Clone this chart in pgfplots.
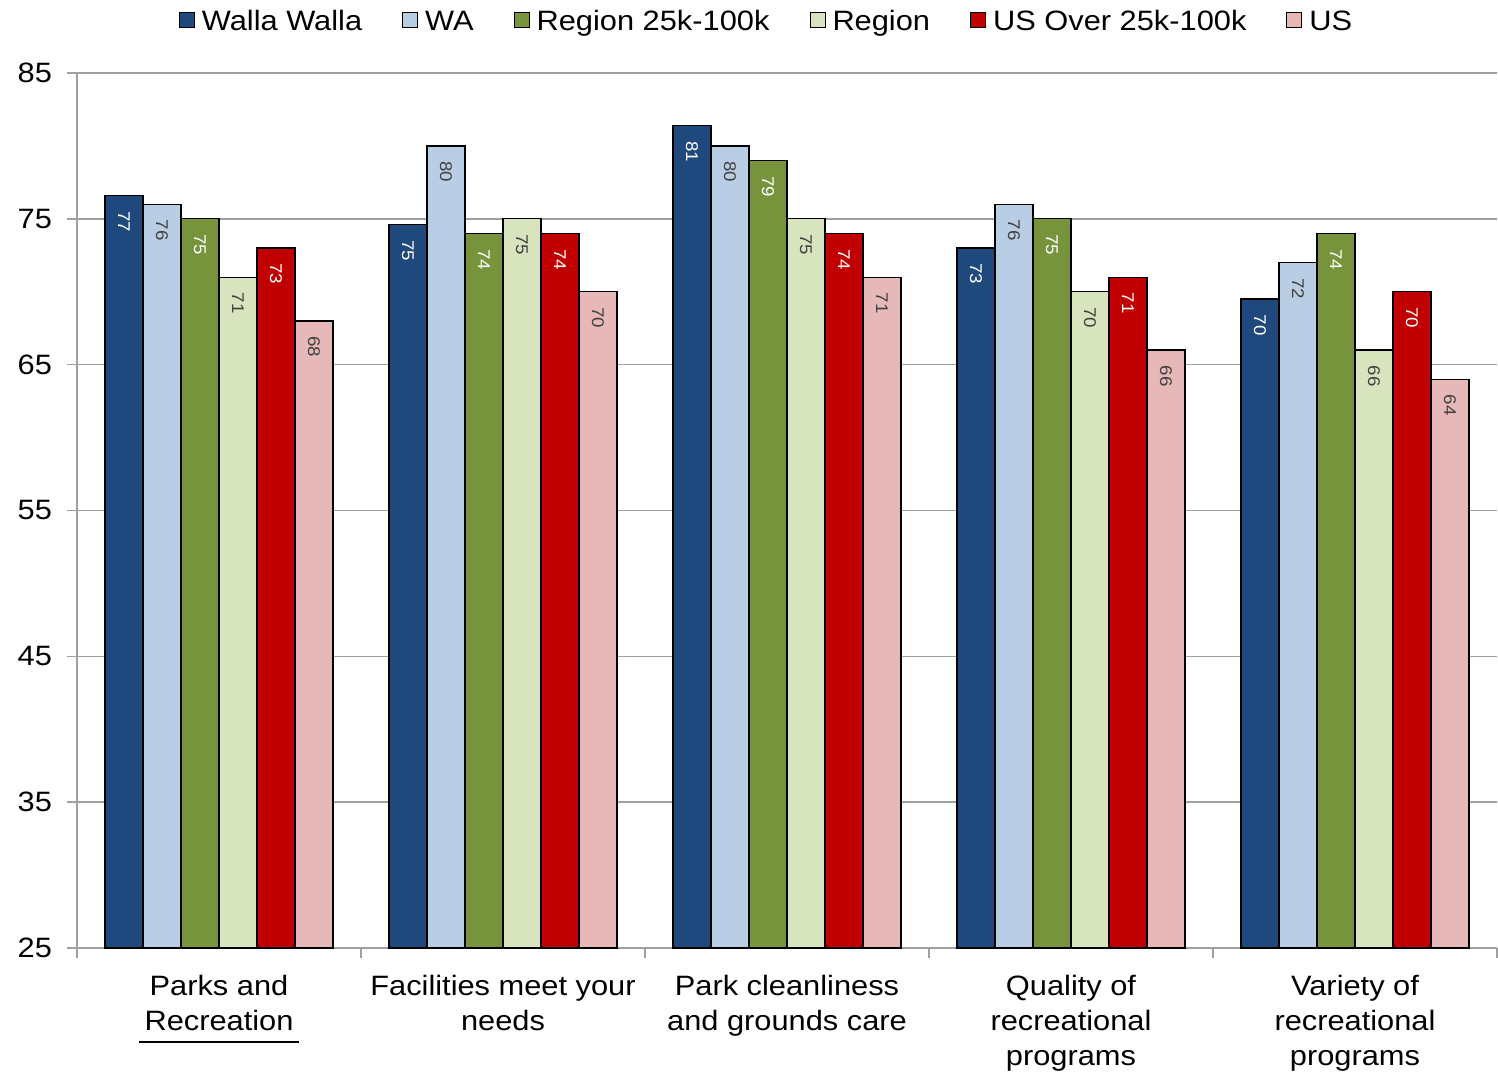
\documentclass[border=0pt]{standalone}
\usepackage{pgfplots}
\pgfplotsset{compat=1.18}
\usepackage{fontspec}
\setmainfont{Liberation Sans}[FakeStretch=1.1]
\definecolor{cWW}{HTML}{1F497D}
\definecolor{cWA}{HTML}{B9CDE5}
\definecolor{cRK}{HTML}{77933C}
\definecolor{cRG}{HTML}{D7E4BD}
\definecolor{cUK}{HTML}{C00000}
\definecolor{cUS}{HTML}{E6B9B8}
\definecolor{cGrid}{HTML}{A0A0A0}
\definecolor{cLab}{HTML}{404040}
\newcommand{\myul}[1]{\setbox0\hbox{#1}\vtop{\offinterlineskip\copy0\kern5pt\hbox to \wd0{\hss\rule{\dimexpr\wd0+6pt\relax}{1pt}\hss}}}
\begin{document}
\begin{tikzpicture}
\path[use as bounding box] (-38.5pt,-66.5pt) rectangle (710.5pt,474pt);
\begin{axis}[
  scale only axis, width=710pt, height=437.5pt,
  at={(0pt,0pt)}, anchor=south west,
  ybar=0pt, bar width=19pt,
  xmin=-0.5, xmax=4.5, ymin=25, ymax=85,
  ytick={25,35,...,85},
  xtick={-0.5,0.5,...,4.5}, xticklabels={},
  extra x ticks={0,1,2,3,4},
  extra x tick labels={{Parks and\\\myul{Recreation}},{Facilities meet your\\needs},{Park cleanliness\\and grounds care},{Quality of\\recreational\\programs},{Variety of\\recreational\\programs}},
  extra x tick style={major tick length=0pt},
  x tick label style={align=center, font=\fontsize{14}{17.5}\selectfont, yshift=-10pt},
  y tick label style={font=\fontsize{14}{17}\selectfont, xshift=-4pt},
  /pgf/number format/assume math mode=true,
  ymajorgrids, grid style={draw=cGrid, line width=0.75pt},
  axis x line*=bottom, axis y line*=left,
  axis line style={draw=cGrid, line width=0.75pt, -},
  tick style={draw=cGrid, line width=0.75pt},
  tick align=outside, major tick length=5pt,
  nodes near coords, point meta=explicit symbolic,
  every node near coord/.append style={rotate=-90, anchor=west, inner sep=0pt, inner xsep=7.5pt, font=\fontsize{8.5}{9}\selectfont},
  legend columns=6,
  legend style={at={(0.4849,1.0583)}, anchor=center, draw=none, font=\fontsize{14}{17}\selectfont,
    nodes={inner sep=0pt},
    /tikz/every odd column/.append style={column sep=3.5pt},
    /tikz/every even column/.append style={column sep=20pt}},
  legend image code/.code={\draw[#1, draw=black, line width=0.5pt] (0pt,-3pt) rectangle (7.5pt,4.5pt);},
]
\addplot[fill=cWW, draw=black, line width=0.6pt, every node near coord/.append style={text=white}] coordinates {(0,76.6) [77] (1,74.6) [75] (2,81.4) [81] (3,73) [73] (4,69.5) [70]};
\addplot[fill=cWA, draw=black, line width=0.6pt, every node near coord/.append style={text=cLab}] coordinates {(0,76) [76] (1,80) [80] (2,80) [80] (3,76) [76] (4,72) [72]};
\addplot[fill=cRK, draw=black, line width=0.6pt, every node near coord/.append style={text=white}] coordinates {(0,75) [75] (1,74) [74] (2,79) [79] (3,75) [75] (4,74) [74]};
\addplot[fill=cRG, draw=black, line width=0.6pt, every node near coord/.append style={text=cLab}] coordinates {(0,71) [71] (1,75) [75] (2,75) [75] (3,70) [70] (4,66) [66]};
\addplot[fill=cUK, draw=black, line width=0.6pt, every node near coord/.append style={text=white}] coordinates {(0,73) [73] (1,74) [74] (2,74) [74] (3,71) [71] (4,70) [70]};
\addplot[fill=cUS, draw=black, line width=0.6pt, every node near coord/.append style={text=cLab}] coordinates {(0,68) [68] (1,70) [70] (2,71) [71] (3,66) [66] (4,64) [64]};
\legend{Walla Walla, WA, Region 25k-100k, Region, US Over 25k-100k, US}
\end{axis}
\end{tikzpicture}
\end{document}
